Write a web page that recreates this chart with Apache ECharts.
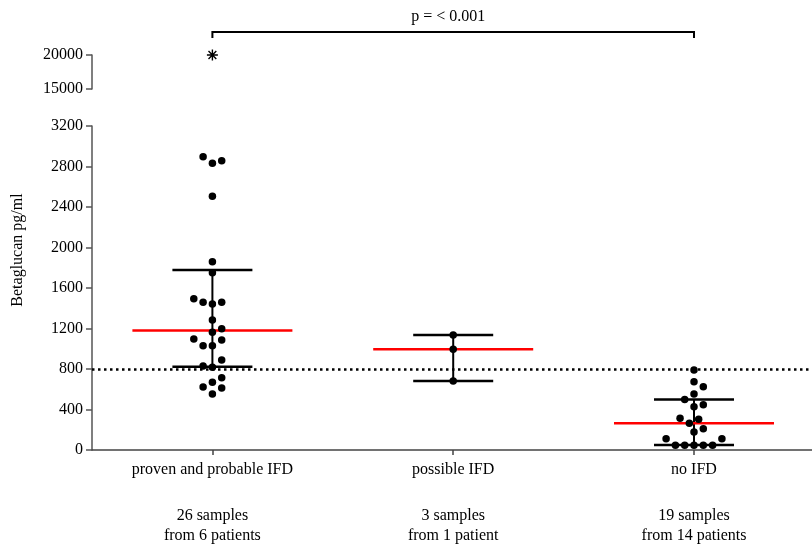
<!DOCTYPE html>
<html><head><meta charset="utf-8">
<script src="https://cdn.jsdelivr.net/npm/echarts@6/dist/echarts.min.js"></script>
<style>html,body{margin:0;padding:0;background:#fff}#c{width:812px;height:550px}</style>
</head><body><div id="c"></div>
<script>
// ---- data ----
const categories = ['proven and probable IFD', 'possible IFD', 'no IFD'];
const sampleLines = ['26 samples', '3 samples', '19 samples'];
const patientLines = ['from 6 patients', 'from 1 patient', 'from 14 patients'];
const provenValues = [2897, 2858, 2832, 2506, 1860, 1751, 1495, 1459, 1459, 1442, 1284, 1198, 1162,
  1096, 1086, 1030, 1030, 889, 830, 817, 714, 668, 622, 612, 553];
const provenOutliers = [20000];
const possibleValues = [1136, 994, 681];
const noIfdValues = [790, 675, 625, 553, 500, 447, 428, 313, 303, 264, 210, 178, 112, 112, 46, 46, 46, 46, 46];
const medians = [1180, 994, 264];
const lowerBars = [823, 681, 49];
const upperBars = [1778, 1136, 500];
const cutoff = 800;
const lowerAxis = { min: 0, max: 3200, interval: 400 };
const upperAxis = { min: 15000, max: 20000, interval: 5000 };
const pLabel = 'p = < 0.001';
const yName = 'Betaglucan pg/ml';

// ---- chart ----
const FONT = 'Liberation Serif';
const FS = 16;
const axisColor = '#555';
const chart = echarts.init(document.getElementById('c'));

const yAxisCommon = {
  type: 'value',
  axisLine: { show: true, lineStyle: { color: axisColor, width: 1.5 } },
  axisTick: { show: true, length: 6, lineStyle: { color: axisColor, width: 1.5 } },
  axisLabel: { fontFamily: FONT, fontSize: FS, color: '#000', margin: 9, formatter: v => String(v) },
  splitLine: { show: false }
};

const option = {
  animation: false,
  grid: [
    { left: 92, right: 0, top: 126, height: 324 },
    { left: 92, right: 0, top: 55, height: 34 }
  ],
  xAxis: [
    {
      gridIndex: 0, type: 'value', min: 0.5, max: 3.49,
      axisLine: { show: true, onZero: false, lineStyle: { color: '#444', width: 1.5 } },
      axisTick: { show: true, customValues: [1, 2, 3], length: 5, lineStyle: { color: '#444', width: 1.5 } },
      axisLabel: {
        customValues: [1, 2, 3], margin: 10,
        formatter: function (v) {
          const i = Math.round(v) - 1;
          return '{a|' + categories[i] + '}\n{s| }\n{b|' + sampleLines[i] + '}\n{b|' + patientLines[i] + '}';
        },
        rich: {
          a: { fontFamily: FONT, fontSize: FS, lineHeight: 20, color: '#000' },
          s: { fontFamily: FONT, fontSize: 10, lineHeight: 26 },
          b: { fontFamily: FONT, fontSize: FS, lineHeight: 20, color: '#000' }
        }
      },
      splitLine: { show: false }
    },
    { gridIndex: 1, type: 'value', min: 0.5, max: 3.49, show: false }
  ],
  yAxis: [
    Object.assign({ gridIndex: 0 }, yAxisCommon, lowerAxis),
    Object.assign({ gridIndex: 1 }, yAxisCommon, upperAxis)
  ],
  series: []
};
chart.setOption(option);

const unit = chart.convertToPixel({ xAxisIndex: 0 }, 2) - chart.convertToPixel({ xAxisIndex: 0 }, 1);
// simple beeswarm layout (bottom to top), collision-based
function swarm(values, center) {
  const ypx = values.map(v => chart.convertToPixel({ yAxisIndex: 0 }, v));
  const step = 4.65, D = 9.2;
  const order = values.map((v, i) => i).sort((a, b) => values[a] - values[b]);
  const placed = []; let last = -1; const ks = new Array(values.length);
  for (const i of order) {
    let chosen = null;
    for (let m = 0; m < 60 && chosen === null; m++) {
      const cands = m === 0 ? [0] : (last > 0 ? [-m, m] : [m, -m]);
      for (const k of cands) {
        if (placed.every(p => Math.hypot((k - p.k) * step, ypx[i] - p.y) >= D - 1e-6)) { chosen = k; break; }
      }
    }
    ks[i] = chosen; placed.push({ k: chosen, y: ypx[i] });
    if (chosen !== 0) last = Math.sign(chosen);
  }
  return values.map((v, i) => [center + ks[i] * step / unit, v]);
}

const statsData = categories.map((c, i) => [i + 1, medians[i], lowerBars[i], upperBars[i]]);
const dotStyle = { type: 'scatter', xAxisIndex: 0, yAxisIndex: 0, symbol: 'circle', symbolSize: 7.5,
  itemStyle: { color: '#000', opacity: 1 }, z: 5, silent: true };

const x1 = chart.convertToPixel({ xAxisIndex: 0 }, 1);
const x3 = chart.convertToPixel({ xAxisIndex: 0 }, 3);

chart.setOption({
  series: [
    {
      type: 'custom', xAxisIndex: 0, yAxisIndex: 0, z: 3, silent: true,
      data: statsData,
      renderItem: function (params, api) {
        const x = api.value(0);
        const pm = api.coord([x, api.value(1)]);
        const pl = api.coord([x, api.value(2)]);
        const pu = api.coord([x, api.value(3)]);
        const bw = 40, mw = 80;
        const blk = { stroke: '#000', lineWidth: 2.5 };
        return {
          type: 'group',
          children: [
            { type: 'line', shape: { x1: pl[0], y1: pl[1], x2: pu[0], y2: pu[1] }, style: { stroke: '#000', lineWidth: 2 } },
            { type: 'line', shape: { x1: pl[0] - bw, y1: pl[1], x2: pl[0] + bw, y2: pl[1] }, style: blk },
            { type: 'line', shape: { x1: pu[0] - bw, y1: pu[1], x2: pu[0] + bw, y2: pu[1] }, style: blk },
            { type: 'line', shape: { x1: pm[0] - mw, y1: pm[1], x2: pm[0] + mw, y2: pm[1] }, style: { stroke: '#ff0000', lineWidth: 2.5 } }
          ]
        };
      },
      markLine: {
        silent: true, symbol: 'none', z: 1,
        label: { show: false },
        lineStyle: { color: '#000', width: 2.5, type: [2.5, 3.5], opacity: 1 },
        data: [{ yAxis: cutoff }]
      }
    },
    Object.assign({ data: swarm(provenValues, 1) }, dotStyle),
    Object.assign({ data: swarm(possibleValues, 2) }, dotStyle),
    Object.assign({ data: swarm(noIfdValues, 3) }, dotStyle),
    {
      type: 'scatter', xAxisIndex: 1, yAxisIndex: 1, silent: true, z: 5,
      symbol: 'path://M5,0L5,10M0,5L10,5M1.46,1.46L8.54,8.54M1.46,8.54L8.54,1.46',
      symbolSize: 11,
      itemStyle: { color: 'transparent', borderColor: '#000', borderWidth: 1.4, opacity: 1 },
      data: provenOutliers.map(v => [1, v])
    }
  ],
  graphic: [
    { type: 'polyline', silent: true, shape: { points: [[x1, 38], [x1, 32], [x3, 32], [x3, 38]] },
      style: { stroke: '#000', lineWidth: 2, fill: null } },
    { type: 'text', silent: true, x: (x1 + x3) / 2 - 5, y: 17,
      style: { text: pLabel, fontFamily: FONT, fontSize: FS, fill: '#000', align: 'center', verticalAlign: 'middle' } },
    { type: 'text', silent: true, x: 18, y: 250, rotation: Math.PI / 2,
      style: { text: yName, fontFamily: FONT, fontSize: FS, fill: '#000', align: 'center', verticalAlign: 'middle' } }
  ]
});
</script></body></html>
